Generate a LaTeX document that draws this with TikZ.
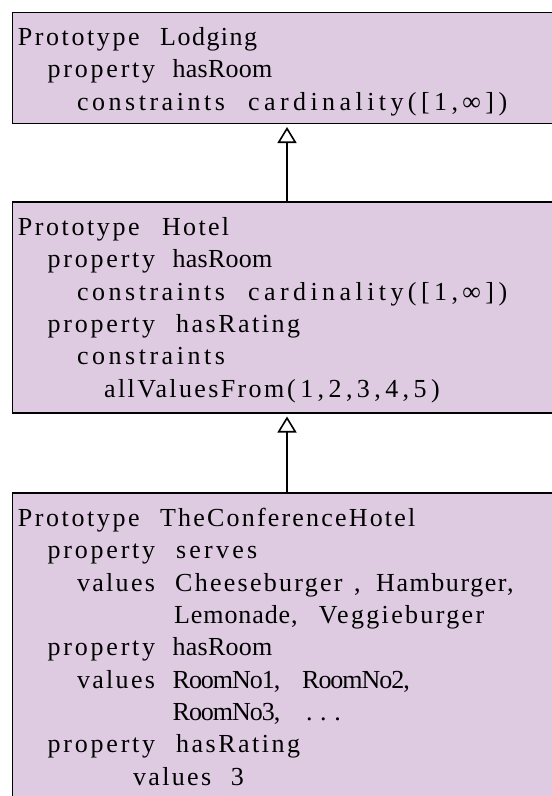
\documentclass[tikz,border=0pt]{standalone}
\usepackage{fontspec}
\setmainfont{Liberation Serif}
\usetikzlibrary{arrows.meta}
\definecolor{lilac}{RGB}{222,203,225}
\tikzset{
  protobox/.style={draw=black, line width=1.5pt, fill=lilac, rectangle,
    anchor=north west, inner sep=0pt, minimum width=620pt},
  txt/.style={anchor=base west, inner sep=0pt, text=black,
    font=\fontsize{26}{31}\selectfont},
  gen/.style={line width=1.6pt,
    -{Triangle[open, width=19pt, length=16pt, line width=1.6pt]}},
}
% one tracked word: name, x, baseline y, letter spacing, text
\newcommand\tw[5]{\node[txt] (#1) at (#2,#3) {\addfontfeature{LetterSpace=#4}#5};}
\begin{document}
\begin{tikzpicture}[x=1pt, y=-1pt]
\useasboundingbox (0,0) rectangle (552,796);

% prototype boxes
\node[protobox, minimum height=111pt] (lodging) at (11.5,11.5) {};
\node[protobox, minimum height=211pt] (hotel) at (11.5,201) {};
\node[protobox, minimum height=400pt] (conf) at (11.5,492) {};

% inheritance arrows
\draw[gen] ([xshift=275.5pt]hotel.north west) -- ([xshift=275.5pt,yshift=-3pt]lodging.south west);
\draw[gen] ([xshift=275.5pt]conf.north west) -- ([xshift=275.5pt,yshift=-3pt]hotel.south west);

% Lodging
\tw{a1}{17.6}{45}{10}{Prototype}
\tw{a2}{160}{45}{5.7}{Lodging}
\tw{a3}{47.5}{77.5}{10.7}{property}
\tw{a4}{172.5}{77.5}{1}{hasRoom}
\tw{a5}{76.8}{110}{13.6}{constraints}
\tw{a6}{248}{110}{17}{cardinality([1,∞])}

% Hotel
\tw{b1}{17.6}{235}{10}{Prototype}
\tw{b2}{162}{235}{8.8}{Hotel}
\tw{b3}{47.5}{267.5}{10.7}{property}
\tw{b4}{172.5}{267.5}{1}{hasRoom}
\tw{b5}{76.8}{300}{13.6}{constraints}
\tw{b6}{248}{300}{17}{cardinality([1,∞])}
\tw{b7}{47.5}{332}{10.7}{property}
\tw{b8}{176}{332}{9.6}{hasRating}
\tw{b9}{76.8}{364.5}{13.6}{constraints}
\tw{b10}{104}{397}{9.1}{allValuesFrom}
\tw{b11}{287}{397}{17}{(1,2,3,4,5)}

% TheConferenceHotel
\tw{c1}{17.6}{526}{10}{Prototype}
\tw{c2}{160}{526}{8.4}{TheConferenceHotel}
\tw{c3}{47.5}{558.5}{10.7}{property}
\tw{c4}{176}{558.5}{12.3}{serves}
\tw{c5}{76.8}{591}{8.9}{values}
\tw{c6}{175}{591}{8.7}{Cheeseburger}
\tw{c7}{354}{591}{0}{,}
\tw{c8}{376}{591}{6}{Hamburger,}
\tw{c9}{174}{623}{3.5}{Lemonade,}
\tw{c10}{318.7}{623}{9}{Veggieburger}
\tw{c11}{47.5}{655.5}{10.7}{property}
\tw{c12}{172.5}{655.5}{1}{hasRoom}
\tw{c13}{76.8}{688}{8.9}{values}
\tw{c14}{172.5}{688}{-4}{RoomNo1,}
\tw{c15}{302}{688}{-4}{RoomNo2,}
\tw{c16}{172.5}{720}{-4}{RoomNo3,}
\tw{c17}{306}{720}{29}{...}
\tw{c18}{47.5}{752.5}{10.7}{property}
\tw{c19}{176}{752.5}{9.6}{hasRating}
\tw{c20}{133}{785}{8.9}{values}
\tw{c21}{230.6}{785}{0}{3}
\end{tikzpicture}
\end{document}
